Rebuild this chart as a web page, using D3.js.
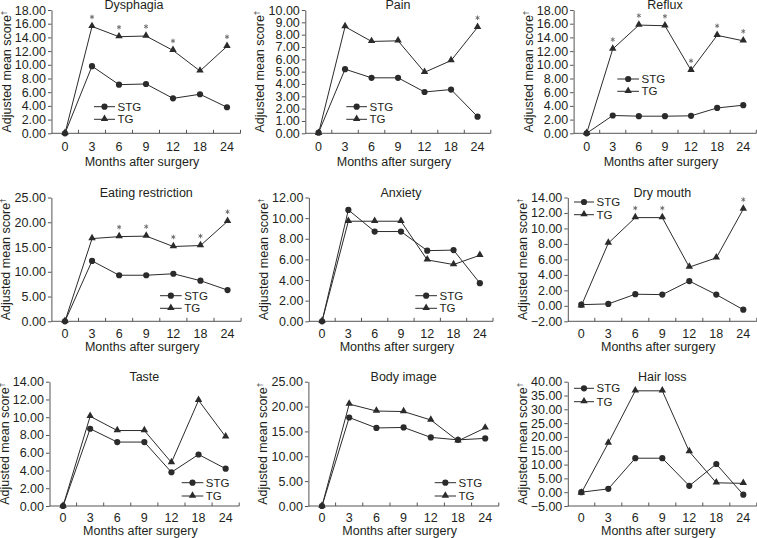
<!DOCTYPE html>
<html>
<head>
<meta charset="utf-8">
<script src="https://cdn.jsdelivr.net/npm/d3@7"></script>
<style>
  html, body { margin: 0; padding: 0; background: #fff; }
  svg { display: block; }
  text { font-family: "Liberation Sans", Arial, sans-serif; fill: #231f20; }
</style>
</head>
<body>
<svg id="chart" width="757" height="538"></svg>
<script>
// ---------- DATA ----------
const months = ["0", "3", "6", "9", "12", "18", "24"];
const seriesNames = ["STG", "TG"];
const titles = ["Dysphagia", "Pain", "Reflux", "Eating restriction", "Anxiety", "Dry mouth", "Taste", "Body image", "Hair loss"];

const stgDysphagia = [0, 9.8, 7.1, 7.2, 5.1, 5.7, 3.8];
const tgDysphagia  = [0, 15.6, 14.1, 14.2, 12.1, 9.1, 12.7];
const starDysphagia = ["3", "6", "9", "12", "24"];

const stgPain = [0.05, 5.2, 4.5, 4.5, 3.35, 3.55, 1.35];
const tgPain  = [0, 8.65, 7.45, 7.5, 4.95, 5.9, 8.6];
const starPain = ["24"];

const stgReflux = [0, 2.6, 2.5, 2.5, 2.55, 3.7, 4.1];
const tgReflux  = [0, 12.3, 15.8, 15.7, 9.2, 14.3, 13.5];
const starReflux = ["3", "6", "9", "12", "18", "24"];

const stgEating = [0, 12.2, 9.3, 9.3, 9.6, 8.2, 6.3];
const tgEating  = [0, 16.7, 17.1, 17.2, 15.1, 15.3, 20.2];
const starEating = ["6", "9", "12", "18", "24"];

const stgAnxiety = [0, 10.8, 8.7, 8.7, 6.85, 6.9, 3.7];
const tgAnxiety  = [0, 9.7, 9.7, 9.7, 5.95, 5.5, 6.4];
const starAnxiety = [];

const stgDryMouth = [0.15, 0.25, 1.5, 1.45, 3.2, 1.45, -0.5];
const tgDryMouth  = [0, 8.1, 11.4, 11.4, 5.0, 6.2, 12.5];
const starDryMouth = ["6", "9", "24"];

const stgTaste = [0, 8.7, 7.2, 7.2, 3.8, 5.8, 4.2];
const tgTaste  = [0, 10.1, 8.5, 8.5, 4.9, 11.9, 7.8];
const starTaste = [];

const stgBody = [0, 17.8, 15.7, 15.8, 13.8, 13.3, 13.6];
const tgBody  = [0, 20.5, 19.1, 19.0, 17.3, 13.1, 15.7];
const starBody = [];

const stgHair = [0, 1.2, 12.3, 12.3, 2.3, 10.2, -0.9];
const tgHair  = [-0.3, 17.8, 36.7, 36.7, 14.7, 3.4, 3.2];
const starHair = [];

const ticksDysphagia = [0, 2, 4, 6, 8, 10, 12, 14, 16, 18];
const ticksPain = [0, 1, 2, 3, 4, 5, 6, 7, 8, 9, 10];
const ticksReflux = [0, 2, 4, 6, 8, 10, 12, 14, 16, 18];
const ticksEating = [0, 5, 10, 15, 20, 25];
const ticksAnxiety = [0, 2, 4, 6, 8, 10, 12];
const ticksDryMouth = [-2, 0, 2, 4, 6, 8, 10, 12, 14];
const ticksTaste = [0, 2, 4, 6, 8, 10, 12, 14];
const ticksBody = [0, 5, 10, 15, 20, 25];
const ticksHair = [-5, 0, 5, 10, 15, 20, 25, 30, 35, 40];

const panelData = [
  { stg: stgDysphagia, tg: tgDysphagia, stars: starDysphagia, ticks: ticksDysphagia },
  { stg: stgPain, tg: tgPain, stars: starPain, ticks: ticksPain },
  { stg: stgReflux, tg: tgReflux, stars: starReflux, ticks: ticksReflux },
  { stg: stgEating, tg: tgEating, stars: starEating, ticks: ticksEating },
  { stg: stgAnxiety, tg: tgAnxiety, stars: starAnxiety, ticks: ticksAnxiety },
  { stg: stgDryMouth, tg: tgDryMouth, stars: starDryMouth, ticks: ticksDryMouth },
  { stg: stgTaste, tg: tgTaste, stars: starTaste, ticks: ticksTaste },
  { stg: stgBody, tg: tgBody, stars: starBody, ticks: ticksBody },
  { stg: stgHair, tg: tgHair, stars: starHair, ticks: ticksHair }
];

// ---------- LAYOUT ----------
// axis x, band step, top, bottom, title shift, tick-label / axis-title offsets, legend (x1, x2, yStg, yTg)
const layout = [
  { ax: 51.5,  step: 27.0, top: 10,    bot: 133.3, tdx: -12, xo: [17.2, 32.5], lg: [94, 115, 106.7, 119.3] },
  { ax: 305.3, step: 26.5, top: 10,    bot: 133.3, tdx: 0,   xo: [17.2, 32.5], lg: [346.3, 367, 106.7, 119.3] },
  { ax: 573.6, step: 26.1, top: 10,    bot: 133.3, tdx: 0,   xo: [17.2, 32.5], lg: [617.3, 639, 79, 91.3] },
  { ax: 51.4,  step: 27.1, top: 197.5, bot: 321.3, tdx: 0,   xo: [16.3, 30.0], lg: [160, 181.7, 295.7, 308.3] },
  { ax: 308.9, step: 26.3, top: 197.5, bot: 321.3, tdx: 0,   xo: [16.3, 30.0], lg: [415.3, 437, 295.7, 308.3] },
  { ax: 567.8, step: 27.0, top: 197.5, bot: 321.3, tdx: 0,   xo: [16.3, 30.0], lg: [574, 594, 202, 214.7] },
  { ax: 49.5,  step: 27.1, top: 381.7, bot: 506,   tdx: 0,   xo: [15.6, 29.0], lg: [181.7, 203.3, 482.7, 496] },
  { ax: 308.4, step: 27.2, top: 381.7, bot: 506,   tdx: 0,   xo: [15.6, 29.0], lg: [434.7, 456, 482.7, 496] },
  { ax: 567.8, step: 27.0, top: 381.7, bot: 506,   tdx: 0,   xo: [15.6, 29.0], lg: [574, 594, 388.3, 401.7] }
];

const svg = d3.select("#chart");
const ink = "#2b2b2b";
const axisCol = "#555";
const FS = 12.5;
const fmt = d3.format(".2f");
const tri = d3.symbol().type(d3.symbolTriangle).size(24);
const astType = d3.symbolAsterisk || d3.symbolCross;
const ast = d3.symbol().type(astType).size(14);

panelData.forEach((pd, i) => {
  const L = layout[i];
  const x0 = L.ax, x1 = L.ax + 7 * L.step;
  const x = d3.scaleBand().domain(months).range([x0, x1]).paddingInner(0).paddingOuter(0);
  const cx = m => x(m) + x.bandwidth() / 2;
  const y = d3.scaleLinear().domain([pd.ticks[0], pd.ticks[pd.ticks.length - 1]]).range([L.bot, L.top]);
  const g = svg.append("g");

  // y axis
  const yAxis = d3.axisLeft(y).tickValues(pd.ticks).tickFormat(fmt).tickSize(3.5).tickSizeOuter(0).tickPadding(2);
  const ya = g.append("g").attr("transform", `translate(${x0},0)`).call(yAxis);
  ya.select(".domain").attr("stroke", axisCol);
  ya.selectAll(".tick line").attr("stroke", axisCol);
  ya.selectAll("text").attr("font-size", FS).attr("font-family", "Liberation Sans, Arial, sans-serif").attr("fill", "#231f20");

  // x axis baseline (at y = lowest tick), ticks at band boundaries pointing up
  const xa = g.append("g");
  xa.append("line").attr("x1", x0).attr("x2", x1).attr("y1", L.bot).attr("y2", L.bot).attr("stroke", axisCol);
  const bounds = months.map(m => x(m)).concat([x1]).slice(1);
  xa.selectAll("line.tk").data(bounds).join("line").attr("class", "tk")
    .attr("x1", d => d).attr("x2", d => d).attr("y1", L.bot).attr("y2", L.bot - 3.5).attr("stroke", axisCol);
  xa.selectAll("text.xl").data(months).join("text").attr("class", "xl")
    .attr("x", d => cx(d)).attr("y", L.bot + L.xo[0]).attr("text-anchor", "middle").attr("font-size", FS).text(d => d);

  // axis titles
  g.append("text").attr("x", (x0 + x1) / 2 - 4).attr("y", L.bot + L.xo[1])
    .attr("text-anchor", "middle").attr("font-size", FS).text("Months after surgery");
  const yt = g.append("text")
    .attr("transform", `translate(${x0 - 41},${(L.top + L.bot) / 2}) rotate(-90)`)
    .attr("text-anchor", "middle").attr("font-size", FS);
  yt.append("tspan").text("Adjusted mean score");
  yt.append("tspan").attr("font-size", 8).attr("dy", -5).text("†");

  // panel title
  g.append("text").attr("x", (x0 + x1) / 2 + L.tdx).attr("y", L.top - 0.8)
    .attr("text-anchor", "middle").attr("font-size", FS).text(titles[i]);

  // lines
  const line = d3.line().x((d, k) => cx(months[k])).y(d => y(d));
  [pd.stg, pd.tg].forEach(vals => {
    g.append("path").datum(vals).attr("d", line).attr("fill", "none").attr("stroke", ink).attr("stroke-width", 1);
  });
  // markers
  g.selectAll("circle.stg").data(pd.stg).join("circle").attr("class", "stg")
    .attr("cx", (d, k) => cx(months[k])).attr("cy", d => y(d)).attr("r", 3.1).attr("fill", ink);
  g.selectAll("path.tgm").data(pd.tg).join("path").attr("class", "tgm")
    .attr("d", tri).attr("transform", (d, k) => `translate(${cx(months[k])},${y(d) - 0.5})`).attr("fill", ink);

  // significance stars
  g.selectAll("path.star").data(pd.stars).join("path").attr("class", "star")
    .attr("d", ast)
    .attr("transform", m => `translate(${cx(m)},${y(pd.tg[months.indexOf(m)]) - 9.5})`)
    .attr("fill", "none").attr("stroke", "#666").attr("stroke-width", 0.9);

  // legend
  const [lx1, lx2, ly1, ly2] = L.lg;
  const lgG = g.append("g");
  [ly1, ly2].forEach((ly, k) => {
    lgG.append("line").attr("x1", lx1).attr("x2", lx2).attr("y1", ly).attr("y2", ly).attr("stroke", ink);
    if (k === 0) lgG.append("circle").attr("cx", (lx1 + lx2) / 2).attr("cy", ly).attr("r", 3.1).attr("fill", ink);
    else lgG.append("path").attr("d", tri).attr("transform", `translate(${(lx1 + lx2) / 2},${ly - 0.5})`).attr("fill", ink);
    lgG.append("text").attr("x", lx2 + 2.5).attr("y", ly + 4).attr("font-size", 11.5).text(seriesNames[k]);
  });
});
</script>
</body>
</html>
